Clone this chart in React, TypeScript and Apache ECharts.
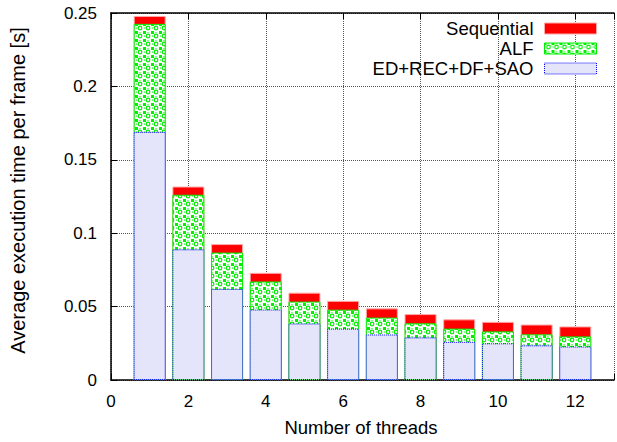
import React, { useEffect, useRef } from "react";
import * as echarts from "echarts";

const threads = [1, 2, 3, 4, 5, 6, 7, 8, 9, 10, 11, 12];
const baseValues = [0.169, 0.089, 0.062, 0.048, 0.0385, 0.035, 0.031, 0.029, 0.026, 0.025, 0.0236, 0.0228];
const alfValues = [0.0736, 0.0372, 0.0248, 0.0191, 0.0149, 0.0129, 0.0115, 0.0096, 0.009, 0.0081, 0.0075, 0.0069];
const seqValues = [0.0054, 0.0056, 0.0058, 0.0059, 0.0061, 0.006, 0.0063, 0.0063, 0.0063, 0.0065, 0.0067, 0.0068];
const legendNames = ["Sequential", "ALF", "ED+REC+DF+SAO"];
const xTicks = [0, 2, 4, 6, 8, 10, 12];
const yTicks = [0, 0.05, 0.1, 0.15, 0.2, 0.25];

const FONT = "Liberation Sans, Arial, Helvetica, sans-serif";

function makePattern(): HTMLCanvasElement {
  const c = document.createElement("canvas");
  c.width = 8;
  c.height = 8;
  const ctx = c.getContext("2d")!;
  ctx.fillStyle = "#ffffff";
  ctx.fillRect(0, 0, 8, 8);
  ctx.strokeStyle = "#00ee00";
  ctx.fillStyle = "#00ee00";
  ctx.lineWidth = 1.2;
  ctx.beginPath();
  ctx.arc(4, 4, 1.8, 0, Math.PI * 2);
  ctx.stroke();
  ctx.fillRect(0, 0, 2, 2);
  ctx.fillRect(7, 7, 1, 1);
  ctx.fillRect(7, 0, 1, 2);
  ctx.fillRect(0, 7, 2, 1);
  ctx.fillRect(3.5, 0, 1, 1);
  ctx.fillRect(0, 3.5, 1, 1);
  return c;
}

export default function App() {
  const ref = useRef<HTMLDivElement>(null);
  useEffect(() => {
    if (!ref.current) return;
    const chart = echarts.init(ref.current, null, { renderer: "svg" });
    const pattern = { image: makePattern(), repeat: "repeat", imageWidth: 8, imageHeight: 8 };
    const xMin = xTicks[0];
    const xMax = 13;
    // cumulative tops for the stacked look (drawn overlapping, tallest first)
    const baseTop = baseValues;
    const alfTop = baseValues.map((b, i) => b + alfValues[i]);
    const seqTop = alfTop.map((a, i) => a + seqValues[i]);
    const mk = (vals: number[]) => threads.map((t, i) => [t, vals[i]]);
    const baseStyle = { color: "#e4e4fa", borderColor: "#0000ff", borderType: "dotted", borderWidth: 1 };
    const alfStyle = { color: pattern, borderColor: "#00ee00", borderWidth: 1 };
    const seqStyle = { color: "#ff0000", borderColor: "#ffaaaa", borderWidth: 1 };
    chart.setOption({
      animation: false,
      textStyle: { fontFamily: FONT },
      grid: { left: 108, top: 13, width: 512, height: 370, containLabel: false },
      legend: {
        data: [
          { name: legendNames[0], itemStyle: seqStyle },
          { name: legendNames[1], itemStyle: alfStyle },
          { name: legendNames[2], itemStyle: baseStyle },
        ],
        orient: "vertical",
        right: 20,
        top: 19,
        padding: 0,
        align: "right",
        itemWidth: 52,
        itemHeight: 11,
        itemGap: 1,
        icon: "rect",
        textStyle: { fontSize: 18.5, color: "#000", fontFamily: FONT, padding: [0, 6, 0, 0] },
      },
      xAxis: [
        {
          type: "value",
          min: xMin,
          max: xMax,
          interval: 2,
          name: "Number of threads",
          nameLocation: "middle",
          nameGap: 38,
          nameTextStyle: { fontSize: 18.5, color: "#000", fontFamily: FONT, padding: [0, 3, 0, 0] },
          axisLine: { lineStyle: { color: "#000", width: 1.5 } },
          axisTick: { inside: true, length: 6, lineStyle: { color: "#000" } },
          axisLabel: {
            fontSize: 17,
            color: "#000",
            margin: 13,
            formatter: (v: number) => (xTicks.includes(v) ? String(v) : ""),
          },
          splitLine: { show: true, lineStyle: { type: "dotted", color: "#555", width: 1 } },
        },
        {
          type: "value",
          position: "top",
          min: xMin,
          max: xMax,
          interval: 2,
          axisLine: { lineStyle: { color: "#000", width: 1.5 } },
          axisTick: { inside: true, length: 6, lineStyle: { color: "#000" } },
          axisLabel: { show: false },
          splitLine: { show: false },
        },
      ],
      yAxis: {
        type: "value",
        min: yTicks[0],
        max: yTicks[yTicks.length - 1],
        interval: 0.05,
        name: "Average execution time per frame [s]",
        nameLocation: "middle",
        nameGap: 83,
        nameTextStyle: { fontSize: 20, color: "#000", fontFamily: FONT, padding: [0, 0, 0, 12] },
        axisLine: { show: true, lineStyle: { color: "#000", width: 1.5 } },
        axisTick: { show: true, inside: true, length: 6, lineStyle: { color: "#000" } },
        axisLabel: { fontSize: 17, color: "#000", margin: 14 },
        splitLine: { show: true, lineStyle: { type: "dotted", color: "#555", width: 1 } },
      },
      series: [
        {
          name: legendNames[0],
          type: "bar",
          barWidth: 32,
          barGap: "-100%",
          data: mk(seqTop),
          itemStyle: seqStyle,
        },
        {
          name: legendNames[1],
          type: "bar",
          barWidth: 32,
          barGap: "-100%",
          data: mk(alfTop),
          itemStyle: alfStyle,
        },
        {
          name: legendNames[2],
          type: "bar",
          barWidth: 32,
          barGap: "-100%",
          data: mk(baseTop),
          itemStyle: baseStyle,
        },
      ],
    });
    return () => chart.dispose();
  }, []);
  return (
    <div
      ref={ref}
      style={{ position: "fixed", left: 0, top: 0, width: 617, height: 442, background: "#fff" }}
    />
  );
}
